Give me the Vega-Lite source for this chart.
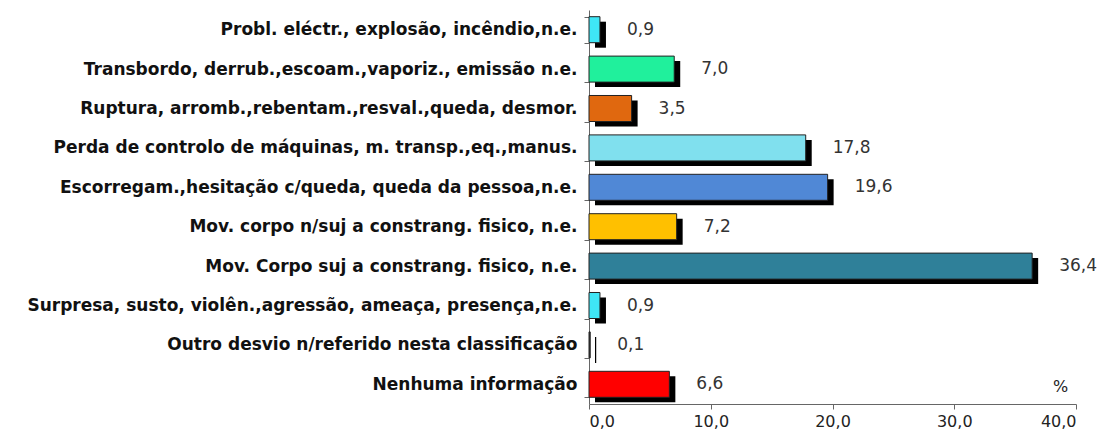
{
  "$schema": "https://vega.github.io/schema/vega-lite/v6.json",
  "autosize": "none",
  "width": 487,
  "height": 394,
  "padding": {"left": 589, "top": 10, "right": 31, "bottom": 30},
  "background": "white",
  "config": {
    "view": {"stroke": null},
    "font": "DejaVu Sans",
    "locale": {"number": {"decimal": ",", "thousands": ".", "grouping": [3], "currency": ["", " €"]}}
  },
  "data": {"values": [
    {"cat": "Probl. eléctr., explosão, incêndio,n.e.", "v": 0.9, "c": "#3FE6F6"},
    {"cat": "Transbordo, derrub.,escoam.,vaporiz., emissão n.e.", "v": 7.0, "c": "#20F09C"},
    {"cat": "Ruptura, arromb.,rebentam.,resval.,queda, desmor.", "v": 3.5, "c": "#E0680F"},
    {"cat": "Perda de controlo de máquinas, m. transp.,eq.,manus.", "v": 17.8, "c": "#80E0EE"},
    {"cat": "Escorregam.,hesitação c/queda, queda da pessoa,n.e.", "v": 19.6, "c": "#5088D6"},
    {"cat": "Mov. corpo n/suj a constrang. fisico, n.e.", "v": 7.2, "c": "#FFC000"},
    {"cat": "Mov. Corpo suj a constrang. fisico, n.e.", "v": 36.4, "c": "#2F8099"},
    {"cat": "Surpresa, susto, violên.,agressão, ameaça, presença,n.e.", "v": 0.9, "c": "#3FE6F6"},
    {"cat": "Outro desvio n/referido nesta classificação", "v": 0.1, "c": "#333333"},
    {"cat": "Nenhuma informação", "v": 6.6, "c": "#FF0000"}
  ]},
  "encoding": {
    "y": {"field": "cat", "type": "nominal", "sort": null,
      "scale": {"paddingInner": 0.34, "paddingOuter": 0.17},
      "axis": {"title": null, "tickBand": "extent", "domainColor": "#666", "tickColor": "#666", "tickSize": 5,
        "labelFont": "DejaVu Sans", "labelFontWeight": "bold", "labelFontSize": 17, "labelColor": "#111",
        "labelPadding": 7, "labelLimit": 700}},
    "x": {"field": "v", "type": "quantitative",
      "scale": {"domain": [0, 40], "nice": false},
      "axis": {"values": [0, 10, 20, 30, 40], "format": ".1f",
        "grid": false, "domainColor": "#666", "tickColor": "#666", "tickSize": 5,
        "labelFont": "DejaVu Sans", "labelFontSize": 16, "labelColor": "#222", "labelPadding": 4,
        "title": "%", "titleX": 471, "titleY": -10, "titleFont": "DejaVu Sans", "titleFontSize": 16, "titleFontWeight": "normal", "titleColor": "#222", "titleBaseline": "bottom"}}
  },
  "layer": [
    {"mark": {"type": "bar", "color": "black", "xOffset": 6, "yOffset": 5}},
    {"mark": {"type": "bar", "stroke": "#222", "strokeWidth": 1},
     "encoding": {"color": {"field": "c", "type": "nominal", "scale": null}}},
    {"mark": {"type": "text", "align": "left", "dx": 27, "fontSize": 17, "color": "#333", "font": "DejaVu Sans"},
     "encoding": {"text": {"field": "v", "type": "quantitative", "format": ".1f"}}}
  ]
}
